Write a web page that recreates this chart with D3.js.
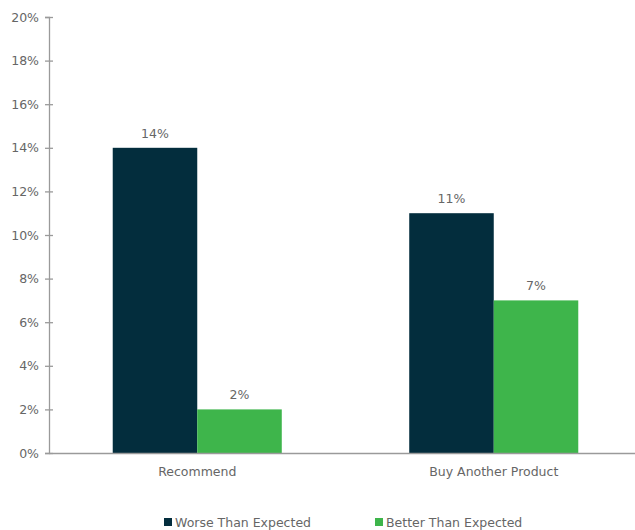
<!DOCTYPE html>
<html>
<head>
<meta charset="utf-8">
<script src="https://cdn.jsdelivr.net/npm/d3@7"></script>
<style>
  html, body { margin: 0; padding: 0; background: #fff; }
  svg { display: block; }
  svg text { font-family: "DejaVu Sans", "Noto Sans", sans-serif; }
</style>
</head>
<body>
<svg id="chart" width="635" height="530"></svg>
<script>
const categories = ["Recommend", "Buy Another Product"];
const seriesNames = ["Worse Than Expected", "Better Than Expected"];
const worseValues = [14, 11];
const betterValues = [2, 7];
const yTicks = [0, 2, 4, 6, 8, 10, 12, 14, 16, 18, 20];
const colors = ["#032d3d", "#3eb54b"];

const svg = d3.select("#chart");
const margin = { left: 49, right: -7, top: 17, bottom: 77 };
const W = 635, H = 530;
const fontSize = "12.5px";
const fontFamily = "DejaVu Sans, Noto Sans, sans-serif";

const x = d3.scaleBand().domain(categories)
  .range([margin.left, W - margin.right]).paddingInner(0).paddingOuter(0);
const xs = d3.scaleBand().domain(seriesNames)
  .range([0, x.bandwidth()]).paddingInner(0).paddingOuter(0.754);
const y = d3.scaleLinear().domain([0, 20]).range([H - margin.bottom, margin.top]);

const rows = categories.map((c, i) => ({ cat: c, vals: [worseValues[i], betterValues[i]] }));

// y axis
const yAxis = svg.append("g").attr("transform", `translate(${margin.left},0)`)
  .call(d3.axisLeft(y).tickValues(yTicks).tickFormat(d => d + "%").tickSize(4).tickPadding(6))
  .attr("font-family", fontFamily);
yAxis.select(".domain").attr("stroke", "#9a9a9a").attr("stroke-width", 1.3);
yAxis.selectAll(".tick line").attr("stroke", "#9a9a9a").attr("x1", 4).attr("x2", -4).attr("stroke-width", 1.3);
yAxis.selectAll(".tick text").attr("fill", "#666").style("font-size", fontSize);

// bars
const groups = svg.append("g").selectAll("g").data(rows).join("g")
  .attr("transform", d => `translate(${x(d.cat)},0)`);
groups.selectAll("rect").data(d => d.vals.map((v, k) => ({ v, k })))
  .join("rect")
  .attr("x", d => xs(seriesNames[d.k]))
  .attr("width", xs.bandwidth())
  .attr("y", d => y(d.v))
  .attr("height", d => y(0) - y(d.v))
  .attr("fill", d => colors[d.k]);
groups.selectAll("text.val").data(d => d.vals.map((v, k) => ({ v, k })))
  .join("text").attr("class", "val")
  .attr("x", d => xs(seriesNames[d.k]) + xs.bandwidth() / 2)
  .attr("y", d => y(d.v) - 10)
  .attr("text-anchor", "middle")
  .attr("fill", "#666").style("font-size", fontSize)
  .text(d => d.v + "%");

// x axis
const xAxis = svg.append("g").attr("transform", `translate(0,${y(0)})`)
  .call(d3.axisBottom(x).tickSize(0).tickPadding(14))
  .attr("font-family", fontFamily);
xAxis.select(".domain").attr("stroke", "#9a9a9a").attr("stroke-width", 1.3);
xAxis.selectAll(".tick text").attr("fill", "#666").style("font-size", fontSize);

// legend
const legendX = [164, 375];
const lg = svg.append("g").selectAll("g").data(seriesNames).join("g")
  .attr("transform", (d, i) => `translate(${legendX[i]},${H - 12})`);
lg.append("rect").attr("x", 0).attr("y", 0).attr("width", 8).attr("height", 8)
  .attr("fill", (d, i) => colors[i]);
lg.append("text").attr("x", 11).attr("y", 8.5).attr("fill", "#666")
  .style("font-size", fontSize).text(d => d);
</script>
</body>
</html>
